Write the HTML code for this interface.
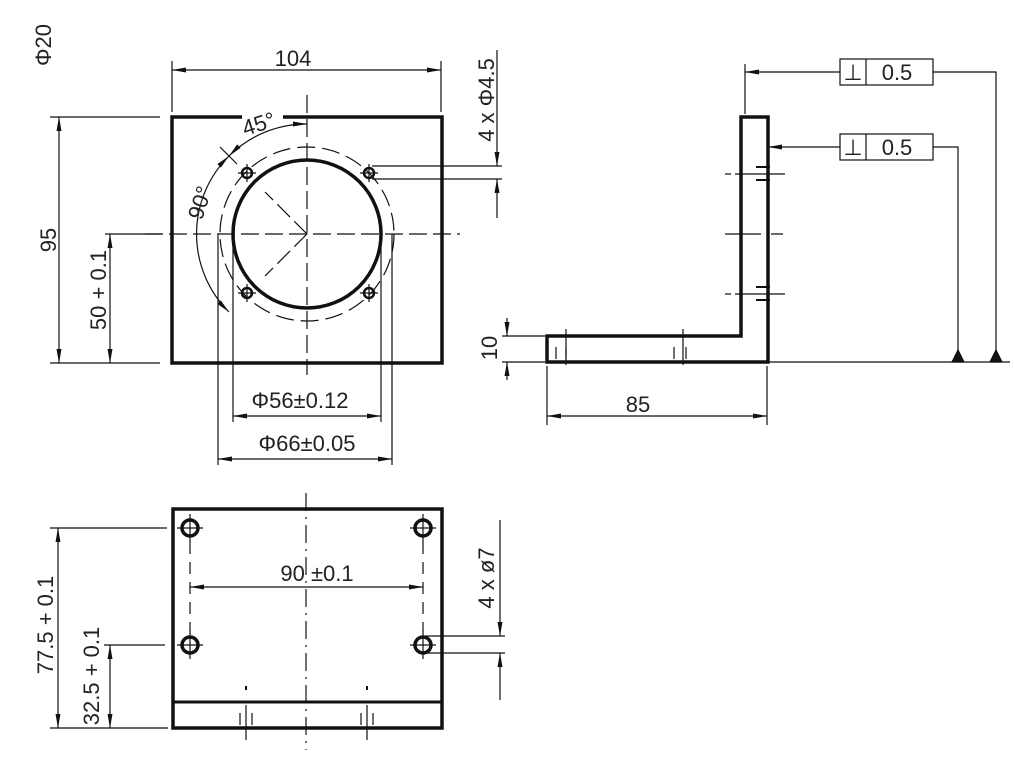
<!DOCTYPE html>
<html><head><meta charset="utf-8"><style>
html,body{margin:0;padding:0;background:#fff;}
svg{display:block;}
</style></head><body>
<svg width="1014" height="766" viewBox="0 0 1014 766" xmlns="http://www.w3.org/2000/svg">
<defs>
<marker id="a" viewBox="0 0 14 6" refX="14" refY="3" markerWidth="14" markerHeight="6" markerUnits="userSpaceOnUse" orient="auto-start-reverse"><path d="M0,0.5 L14,3 L0,5.5 Z" fill="#111"/></marker>
</defs>
<g stroke="#111" fill="none" stroke-width="1.2">
<rect x="172" y="117" width="270" height="246" stroke-width="3.5"/>
<line x1="242" y1="117" x2="283" y2="117" stroke="#fff" stroke-width="6"/>
<circle cx="307" cy="234" r="74" stroke-width="3.5"/>
<circle cx="307" cy="234" r="87" stroke-dasharray="18,7"/>
<line x1="307" y1="95" x2="307" y2="375" stroke-dasharray="18,6"/>
<line x1="145" y1="234" x2="460" y2="234" stroke-dasharray="18,6"/>
<line x1="307" y1="234" x2="265" y2="192" stroke-dasharray="18,6"/>
<line x1="307" y1="234" x2="265" y2="276" stroke-dasharray="18,6"/>
<g stroke-width="2.5">
<circle cx="247" cy="173" r="5"/><circle cx="369" cy="173" r="5"/>
<circle cx="247" cy="293" r="5"/><circle cx="369" cy="293" r="5"/>
</g>
<path d="M238,173h18M247,164v18M360,173h18M369,164v18M238,293h18M247,284v18M360,293h18M369,284v18"/>
<path d="M307,124 A110,110 0 0 0 229,156" marker-start="url(#a)" marker-end="url(#a)"/>
<path d="M229,156 A110,110 0 0 0 229,312" marker-start="url(#a)" marker-end="url(#a)"/>
<line x1="220" y1="147" x2="237" y2="164"/>
<line x1="172" y1="61" x2="172" y2="112"/><line x1="441" y1="61" x2="441" y2="112"/>
<line x1="172" y1="70" x2="441" y2="70" marker-start="url(#a)" marker-end="url(#a)"/>
<line x1="50" y1="117" x2="160" y2="117"/><line x1="50" y1="363" x2="160" y2="363"/>
<line x1="59" y1="117" x2="59" y2="363" marker-start="url(#a)" marker-end="url(#a)"/>
<line x1="105" y1="234" x2="162" y2="234"/>
<line x1="110" y1="234" x2="110" y2="363" marker-start="url(#a)" marker-end="url(#a)"/>
<line x1="372" y1="166" x2="502" y2="166"/><line x1="372" y1="179" x2="502" y2="179"/>
<line x1="497" y1="50" x2="497" y2="166" marker-end="url(#a)"/>
<line x1="497" y1="218" x2="497" y2="179" marker-end="url(#a)"/>
<line x1="233" y1="234" x2="233" y2="422"/><line x1="381" y1="234" x2="381" y2="422"/>
<line x1="218" y1="234" x2="218" y2="465"/><line x1="392" y1="234" x2="392" y2="465"/>
<line x1="233" y1="416" x2="381" y2="416" marker-start="url(#a)" marker-end="url(#a)"/>
<line x1="218" y1="459" x2="392" y2="459" marker-start="url(#a)" marker-end="url(#a)"/>

<path d="M547,336 H741 V117 H768 V362 H547 Z" stroke-width="3.5"/>
<line x1="768" y1="362" x2="1010" y2="362"/>
<path d="M725,174h6M735,174h50M725,234h36M771,234h12M725,294h6M735,294h50" />
<path d="M756,167h14M756,180h14M756,287h14M756,300h14" stroke-width="2"/>
<path d="M556,359v-12M566,359v-12M674,359v-12M686,359v-12"/>
<path d="M566,329v36M683,329v36"/>
<rect x="840" y="59" width="93" height="26"/><line x1="866" y1="59" x2="866" y2="85"/>
<rect x="840" y="134" width="93" height="26"/><line x1="866" y1="134" x2="866" y2="160"/>
<line x1="840" y1="72" x2="745" y2="72" marker-end="url(#a)"/>
<line x1="745" y1="64" x2="745" y2="114"/>
<line x1="840" y1="147" x2="768" y2="147" marker-end="url(#a)"/>
<path d="M933,72H996V362M933,147H958V362"/>
<path d="M990,362l6,-12l6,12zM952,362l6,-12l6,12z" fill="#111"/>
<line x1="502" y1="336" x2="545" y2="336"/><line x1="502" y1="362" x2="545" y2="362"/>
<line x1="507" y1="318" x2="507" y2="336" marker-end="url(#a)"/>
<line x1="507" y1="380" x2="507" y2="362" marker-end="url(#a)"/>
<line x1="547" y1="366" x2="547" y2="425"/><line x1="767" y1="366" x2="767" y2="425"/>
<line x1="547" y1="416" x2="767" y2="416" marker-start="url(#a)" marker-end="url(#a)"/>

<rect x="173" y="509" width="269" height="219" stroke-width="3.5"/>
<line x1="173" y1="702" x2="442" y2="702" stroke-width="3"/>
<line x1="306" y1="493" x2="306" y2="750" stroke-dasharray="18,6,2,6"/>
<g stroke-width="3.5">
<circle cx="190" cy="528" r="8"/><circle cx="423" cy="528" r="8"/>
<circle cx="190" cy="645" r="8"/><circle cx="423" cy="645" r="8"/>
</g>
<path d="M177,528h26M190,514v28M410,528h26M423,514v28M177,645h26M190,631v28M410,645h26M423,631v28"/>
<path d="M190,542v90M423,542v90" stroke-dasharray="12,8"/>
<line x1="190" y1="587" x2="423" y2="587" marker-start="url(#a)" marker-end="url(#a)"/>
<path d="M246,690v-4M367,690v-4" stroke-width="2"/>
<path d="M246,705v35M367,705v35M240,725v-12M252,725v-12M361,725v-12M373,725v-12"/>
<line x1="50" y1="528" x2="167" y2="528"/><line x1="50" y1="728" x2="168" y2="728"/>
<line x1="58" y1="528" x2="58" y2="728" marker-start="url(#a)" marker-end="url(#a)"/>
<line x1="104" y1="645" x2="165" y2="645"/>
<line x1="110" y1="645" x2="110" y2="728" marker-start="url(#a)" marker-end="url(#a)"/>
<line x1="425" y1="636" x2="505" y2="636"/><line x1="425" y1="653" x2="505" y2="653"/>
<line x1="500" y1="520" x2="500" y2="636" marker-end="url(#a)"/>
<line x1="500" y1="700" x2="500" y2="653" marker-end="url(#a)"/>
</g>
<g style="font-family:'Liberation Sans','DejaVu Sans',sans-serif;font-size:22px" fill="#222" stroke="none">
<text x="293" y="66" text-anchor="middle">104</text>
<text transform="translate(261,131) rotate(-18)" text-anchor="middle">45°</text>
<text transform="translate(207,205) rotate(-72)" text-anchor="middle">90°</text>
<text transform="translate(56,240) rotate(-90)" text-anchor="middle">95</text>
<text transform="translate(106,290) rotate(-90)" text-anchor="middle">50 + 0.1</text>
<text transform="translate(494,100) rotate(-90)" text-anchor="middle">4 x Φ4.5</text>
<text transform="translate(51,45) rotate(-90)" text-anchor="middle">Φ20</text>
<text x="300" y="408" text-anchor="middle">Φ56±0.12</text>
<text x="307" y="451" text-anchor="middle">Φ66±0.05</text>
<text x="853" y="80" text-anchor="middle">⊥</text><text x="897" y="80" text-anchor="middle">0.5</text>
<text x="853" y="155" text-anchor="middle">⊥</text><text x="897" y="155" text-anchor="middle">0.5</text>
<text transform="translate(497,348) rotate(-90)" text-anchor="middle">10</text>
<text x="638" y="412" text-anchor="middle">85</text>
<text x="317" y="581" text-anchor="middle">90  ±0.1</text>
<text transform="translate(53,625) rotate(-90)" text-anchor="middle">77.5 + 0.1</text>
<text transform="translate(99,676) rotate(-90)" text-anchor="middle">32.5 + 0.1</text>
<text transform="translate(494,578) rotate(-90)" text-anchor="middle">4 x ø7</text>
</g>
</svg>
</body></html>
